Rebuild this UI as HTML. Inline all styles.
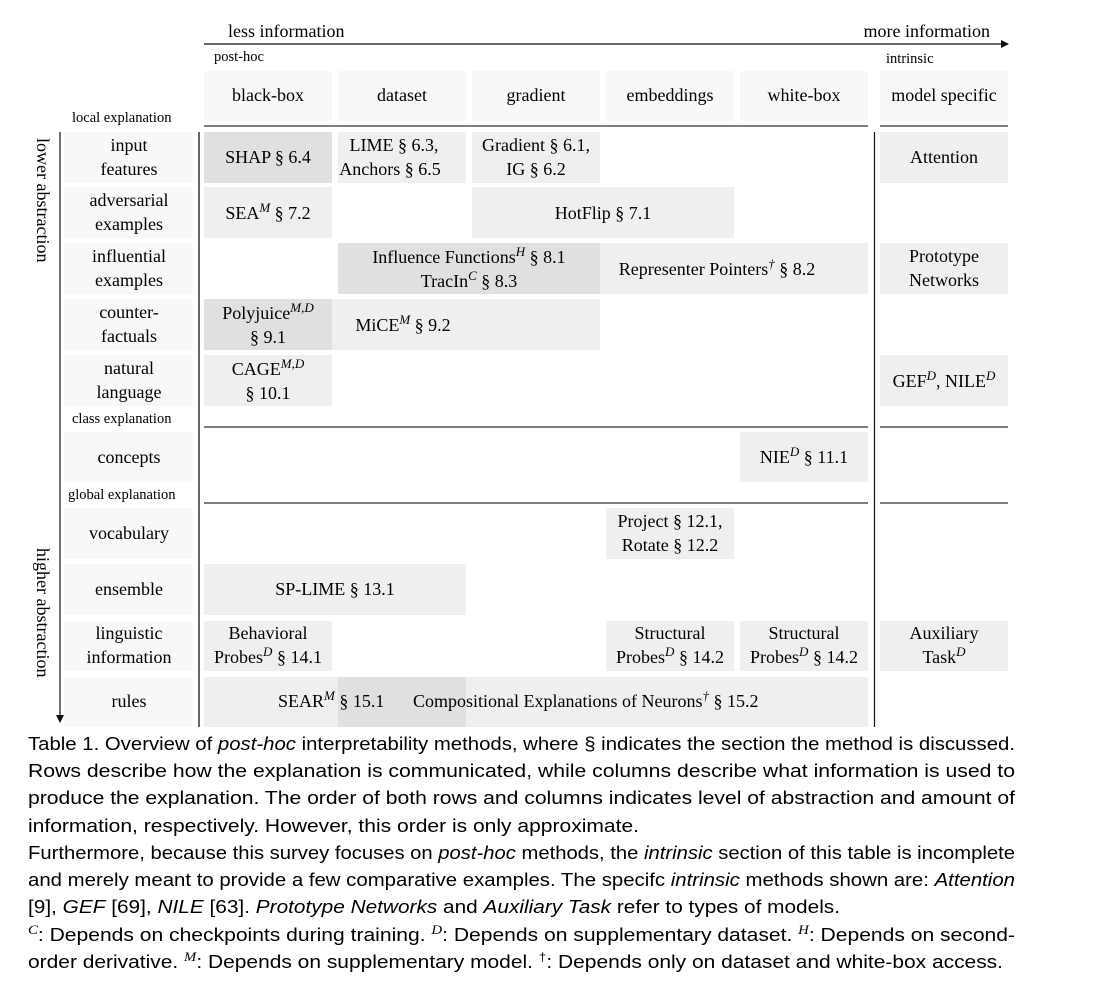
<!DOCTYPE html>
<html><head><meta charset="utf-8"><style>
html,body{margin:0;padding:0;background:#fff;}
svg{display:block;}
.s{font-family:"Liberation Serif",serif;font-size:18px;fill:#000;}
.sm{font-family:"Liberation Serif",serif;font-size:14.5px;fill:#000;}
.cap{font-family:"Liberation Sans",sans-serif;font-size:18.5px;fill:#000;}
.sup{font-family:"Liberation Serif",serif;font-style:italic;font-size:13px;}
</style></head><body>
<svg width="1095" height="992" viewBox="0 0 1095 992" xmlns="http://www.w3.org/2000/svg">
<defs><marker id="ar" markerWidth="8" markerHeight="8" refX="7" refY="4" orient="auto" markerUnits="userSpaceOnUse"><path d="M0,0 L8,4 L0,8 z" fill="#111"/></marker></defs>
<line x1="204" y1="44" x2="1008" y2="44" stroke="#111" stroke-width="1.2" marker-end="url(#ar)"/>
<text class="s" x="228" y="37">less information</text>
<text class="s" x="990" y="37" text-anchor="end">more information</text>
<text class="sm" x="214" y="61">post-hoc</text>
<text class="sm" x="886" y="63">intrinsic</text>
<g fill="#f8f8f8">
<rect x="204" y="71" width="128" height="50"/><rect x="338" y="71" width="128" height="50"/><rect x="472" y="71" width="128" height="50"/><rect x="606" y="71" width="128" height="50"/><rect x="740" y="71" width="128" height="50"/><rect x="880" y="71" width="128" height="50"/>
</g>
<g class="s" text-anchor="middle">
<text x="268" y="101">black-box</text><text x="402" y="101">dataset</text><text x="536" y="101">gradient</text><text x="670" y="101">embeddings</text><text x="804" y="101">white-box</text><text x="944" y="101">model specific</text>
</g>
<g stroke="#333" stroke-width="1.3">
<line x1="204" y1="126" x2="868" y2="126"/><line x1="880" y1="126" x2="1008" y2="126"/>
<line x1="204" y1="427" x2="868" y2="427"/><line x1="880" y1="427" x2="1008" y2="427"/>
<line x1="204" y1="503" x2="868" y2="503"/><line x1="880" y1="503" x2="1008" y2="503"/>
</g>
<line x1="60" y1="132" x2="60" y2="722" stroke="#111" stroke-width="1.2" marker-end="url(#ar)"/>
<line x1="199" y1="132" x2="199" y2="727" stroke="#333" stroke-width="1.5"/>
<line x1="874.5" y1="132" x2="874.5" y2="727" stroke="#111" stroke-width="1.2"/>
<text class="s" transform="translate(37,138) rotate(90)">lower abstraction</text>
<text class="s" transform="translate(37,548) rotate(90)">higher abstraction</text>
<g fill="#f8f8f8">
<rect x="64" y="132" width="129" height="51"/><rect x="64" y="187" width="129" height="51"/><rect x="64" y="243" width="129" height="51"/><rect x="64" y="299" width="129" height="51"/><rect x="64" y="355" width="129" height="51"/>
<rect x="64" y="432" width="129" height="50"/><rect x="64" y="508" width="129" height="51"/><rect x="64" y="564" width="129" height="51"/><rect x="64" y="621" width="129" height="50"/><rect x="64" y="677" width="129" height="50"/>
</g>
<g class="sm">
<text x="72" y="122">local explanation</text>
<text x="72" y="423">class explanation</text>
<text x="68" y="499">global explanation</text>
</g>
<g class="s" text-anchor="middle">
<text x="129" y="151">input</text><text x="129" y="175">features</text>
<text x="129" y="206">adversarial</text><text x="129" y="230">examples</text>
<text x="129" y="262">influential</text><text x="129" y="286">examples</text>
<text x="129" y="318">counter-</text><text x="129" y="342">factuals</text>
<text x="129" y="374">natural</text><text x="129" y="398">language</text>
<text x="129" y="463">concepts</text>
<text x="129" y="539">vocabulary</text>
<text x="129" y="595">ensemble</text>
<text x="129" y="639">linguistic</text><text x="129" y="663">information</text>
<text x="129" y="707">rules</text>
</g>
<g fill="#efefef">
<rect x="338" y="132" width="128" height="51"/><rect x="472" y="132" width="128" height="51"/><rect x="880" y="132" width="128" height="51"/>
<rect x="204" y="187" width="128" height="51"/><rect x="472" y="187" width="262" height="51"/>
<rect x="600" y="243" width="268" height="51"/><rect x="880" y="243" width="128" height="51"/>
<rect x="332" y="299" width="268" height="51"/>
<rect x="204" y="355" width="128" height="51"/><rect x="880" y="355" width="128" height="51"/>
<rect x="740" y="432" width="128" height="50"/>
<rect x="606" y="508" width="128" height="51"/>
<rect x="204" y="564" width="262" height="51"/>
<rect x="204" y="621" width="128" height="50"/><rect x="606" y="621" width="128" height="50"/><rect x="740" y="621" width="128" height="50"/><rect x="880" y="621" width="128" height="50"/>
<rect x="204" y="677" width="664" height="50"/>
</g>
<g fill="#e0e0e0">
<rect x="204" y="132" width="128" height="51"/>
<rect x="338" y="243" width="262" height="51"/>
<rect x="204" y="299" width="128" height="51"/>
<rect x="338" y="677" width="128" height="50"/>
</g>
<g class="s" text-anchor="middle">
<text x="268" y="163">SHAP § 6.4</text>
<text x="394" y="151">LIME § 6.3,</text><text x="390" y="175">Anchors § 6.5</text>
<text x="536" y="151">Gradient § 6.1,</text><text x="536" y="175">IG § 6.2</text>
<text x="944" y="163">Attention</text>
<text x="268" y="219">SEA<tspan class="sup" dy="-7">M</tspan><tspan dy="7"> § 7.2</tspan></text>
<text x="603" y="219">HotFlip § 7.1</text>
<text x="469" y="263">Influence Functions<tspan class="sup" dy="-7">H</tspan><tspan dy="7"> § 8.1</tspan></text>
<text x="469" y="287">TracIn<tspan class="sup" dy="-7">C</tspan><tspan dy="7"> § 8.3</tspan></text>
<text x="717" y="275">Representer Pointers<tspan class="sup" dy="-7">†</tspan><tspan dy="7"> § 8.2</tspan></text>
<text x="944" y="262">Prototype</text><text x="944" y="286">Networks</text>
<text x="268" y="319">Polyjuice<tspan class="sup" dy="-7">M,D</tspan></text><text x="268" y="343">§ 9.1</text>
<text x="403" y="331">MiCE<tspan class="sup" dy="-7">M</tspan><tspan dy="7"> § 9.2</tspan></text>
<text x="268" y="375">CAGE<tspan class="sup" dy="-7">M,D</tspan></text><text x="268" y="399">§ 10.1</text>
<text x="944" y="387">GEF<tspan class="sup" dy="-7">D</tspan><tspan dy="7">, NILE</tspan><tspan class="sup" dy="-7">D</tspan></text>
<text x="804" y="463">NIE<tspan class="sup" dy="-7">D</tspan><tspan dy="7"> § 11.1</tspan></text>
<text x="670" y="527">Project § 12.1,</text><text x="670" y="551">Rotate § 12.2</text>
<text x="335" y="595">SP-LIME § 13.1</text>
<text x="268" y="639">Behavioral</text><text x="268" y="663">Probes<tspan class="sup" dy="-7">D</tspan><tspan dy="7"> § 14.1</tspan></text>
<text x="670" y="639">Structural</text><text x="670" y="663">Probes<tspan class="sup" dy="-7">D</tspan><tspan dy="7"> § 14.2</tspan></text>
<text x="804" y="639">Structural</text><text x="804" y="663">Probes<tspan class="sup" dy="-7">D</tspan><tspan dy="7"> § 14.2</tspan></text>
<text x="944" y="639">Auxiliary</text><text x="944" y="663">Task<tspan class="sup" dy="-7">D</tspan></text>
</g>
<g class="s">
<text x="278" y="707">SEAR<tspan class="sup" dy="-7">M</tspan><tspan dy="7"> § 15.1</tspan></text>
<text x="413" y="707">Compositional Explanations of Neurons<tspan class="sup" dy="-7">†</tspan><tspan dy="7"> § 15.2</tspan></text>
</g>
<g class="cap">
<text x="28" y="750" textLength="987" lengthAdjust="spacingAndGlyphs">Table 1.  Overview of <tspan font-style="italic">post-hoc</tspan> interpretability methods, where § indicates the section the method is discussed.</text>
<text x="28" y="777" textLength="987" lengthAdjust="spacingAndGlyphs">Rows describe how the explanation is communicated, while columns describe what information is used to</text>
<text x="28" y="804" textLength="987" lengthAdjust="spacingAndGlyphs">produce the explanation. The order of both rows and columns indicates level of abstraction and amount of</text>
<text x="28" y="832" textLength="611" lengthAdjust="spacingAndGlyphs">information, respectively. However, this order is only approximate.</text>
<text x="28" y="859" textLength="987" lengthAdjust="spacingAndGlyphs">Furthermore, because this survey focuses on <tspan font-style="italic">post-hoc</tspan> methods, the <tspan font-style="italic">intrinsic</tspan> section of this table is incomplete</text>
<text x="28" y="886" textLength="987" lengthAdjust="spacingAndGlyphs">and merely meant to provide a few comparative examples. The specifc <tspan font-style="italic">intrinsic</tspan> methods shown are: <tspan font-style="italic">Attention</tspan></text>
<text x="28" y="913" textLength="812" lengthAdjust="spacingAndGlyphs">[9], <tspan font-style="italic">GEF</tspan> [69], <tspan font-style="italic">NILE</tspan> [63]. <tspan font-style="italic">Prototype Networks</tspan> and <tspan font-style="italic">Auxiliary Task</tspan> refer to types of models.</text>
<text x="28" y="941" textLength="987" lengthAdjust="spacingAndGlyphs"><tspan class="sup" dy="-7">C</tspan><tspan dy="7">: Depends on checkpoints during training. </tspan><tspan class="sup" dy="-7">D</tspan><tspan dy="7">: Depends on supplementary dataset. </tspan><tspan class="sup" dy="-7">H</tspan><tspan dy="7">: Depends on second-</tspan></text>
<text x="28" y="968" textLength="975" lengthAdjust="spacingAndGlyphs">order derivative. <tspan class="sup" dy="-7">M</tspan><tspan dy="7">: Depends on supplementary model. </tspan><tspan dy="-7" font-size="12">†</tspan><tspan dy="7">: Depends only on dataset and white-box access.</tspan></text>
</g>
</svg>
</body></html>
